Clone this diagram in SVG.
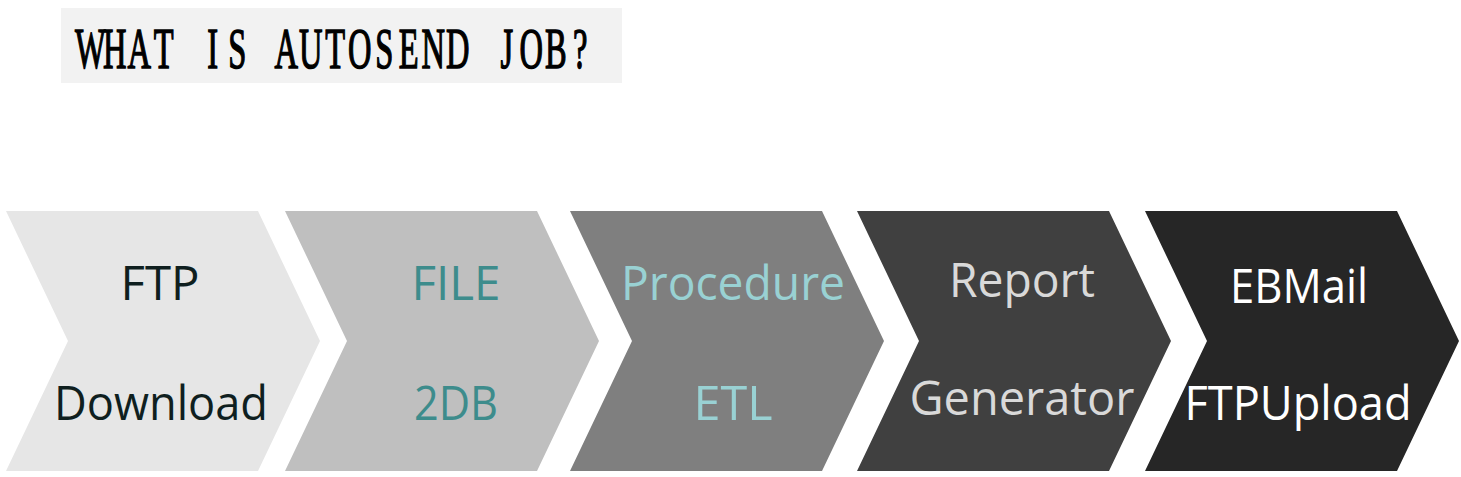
<svg xmlns="http://www.w3.org/2000/svg" width="1461" height="477" viewBox="0 0 1461 477">
<style>
.lbl{font-family:"Open Sans","DejaVu Sans",sans-serif;font-size:48px;text-anchor:middle}
.title{font-family:"Liberation Serif","DejaVu Serif",serif;font-size:58px;fill:#000;stroke:#000;stroke-width:1.5px;text-anchor:middle}
</style>
<rect width="1461" height="477" fill="#ffffff"/>
<g id="title">
<rect x="61" y="8" width="561" height="75" fill="#f2f2f2"/>
<text class="title" transform="scale(0.56,1)" y="68" x="161.16 204.91 248.66 292.41 336.16 379.91 423.66 467.41 511.16 554.91 598.66 642.41 686.16 729.91 773.66 817.41 861.16 904.91 948.66 992.41 1036.16">WHAT IS AUTOSEND JOB?</text>
</g>
<g id="step1">
<polygon points="6,211 258,211 320,341 258,471 6,471 68,341" fill="#e6e6e6"/>
<text class="lbl" x="160" y="300" fill="#0f1f1f" textLength="79" lengthAdjust="spacingAndGlyphs">FTP</text>
<text class="lbl" x="161" y="420" fill="#0f1f1f" textLength="214" lengthAdjust="spacingAndGlyphs">Download</text>
</g>
<g id="step2">
<polygon points="285,211 537,211 599,341 537,471 285,471 347,341" fill="#bfbfbf"/>
<text class="lbl" x="456" y="300" fill="#3d8c8c" textLength="89" lengthAdjust="spacingAndGlyphs">FILE</text>
<text class="lbl" x="456" y="420" fill="#3d8c8c" textLength="84" lengthAdjust="spacingAndGlyphs">2DB</text>
</g>
<g id="step3">
<polygon points="570,211 822,211 884,341 822,471 570,471 632,341" fill="#7f7f7f"/>
<text class="lbl" x="733" y="300" fill="#99d1d3" textLength="224" lengthAdjust="spacingAndGlyphs">Procedure</text>
<text class="lbl" x="733" y="420" fill="#99d1d3" textLength="79" lengthAdjust="spacingAndGlyphs">ETL</text>
</g>
<g id="step4">
<polygon points="857,211 1109,211 1171,341 1109,471 857,471 919,341" fill="#404040"/>
<text class="lbl" x="1022" y="297" fill="#d9d9d9" textLength="146" lengthAdjust="spacingAndGlyphs">Report</text>
<text class="lbl" x="1022" y="415" fill="#d9d9d9" textLength="225" lengthAdjust="spacingAndGlyphs">Generator</text>
</g>
<g id="step5">
<polygon points="1145,211 1397,211 1459,341 1397,471 1145,471 1207,341" fill="#262626"/>
<text class="lbl" x="1299" y="303" fill="#ffffff" textLength="138" lengthAdjust="spacingAndGlyphs">EBMail</text>
<text class="lbl" x="1298" y="420" fill="#ffffff" textLength="227" lengthAdjust="spacingAndGlyphs">FTPUpload</text>
</g>
<g id="connectors"></g>
</svg>
